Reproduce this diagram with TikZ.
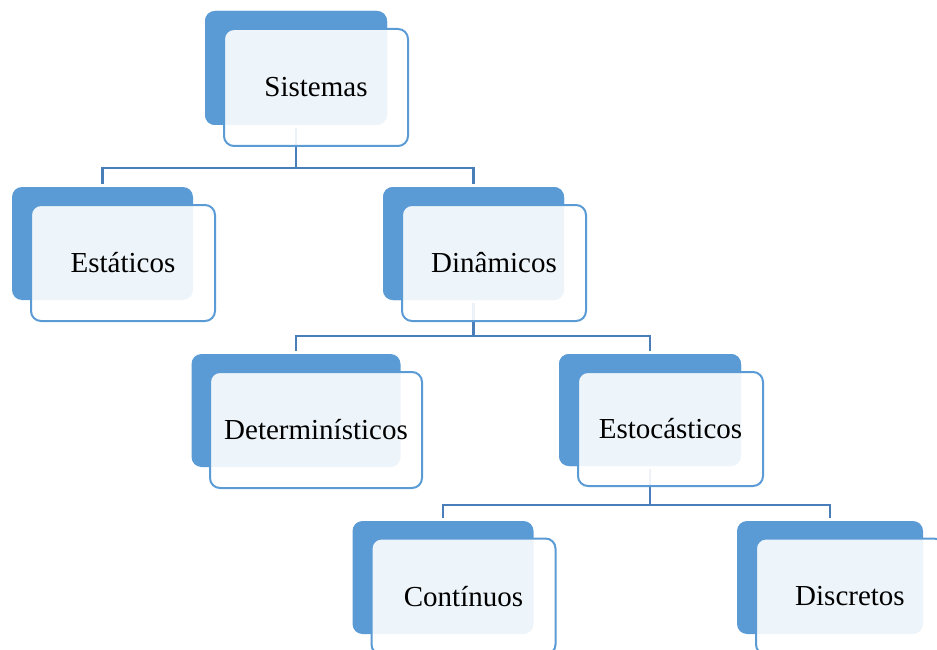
\documentclass[tikz,border=0pt]{standalone}
\usepackage{fontspec}
\setmainfont{Liberation Serif}
\definecolor{boxblue}{HTML}{5B9BD5}
\definecolor{linkblue}{HTML}{4A7EBB}
\begin{document}
\begin{tikzpicture}[x=1pt,y=-1pt,
  backbox/.style={rectangle, rounded corners=10pt, fill=boxblue, inner sep=0pt},
  frontbox/.style={rectangle, rounded corners=10pt, draw=boxblue, line width=2pt,
    fill=white, fill opacity=0.9, text opacity=1, inner sep=0pt,
    font=\fontsize{29}{34}\selectfont},
  conn/.style={draw=linkblue, line width=2.4pt, line join=miter}]
\useasboundingbox (0,0) rectangle (937,650);
\clip (0,0) rectangle (937,650);

% back boxes
\node[backbox, minimum width=182pt, minimum height=114pt] (sysB) at (296,68) {};
\node[backbox, minimum width=181pt, minimum height=113pt] (estB) at (102.5,243.5) {};
\node[backbox, minimum width=181pt, minimum height=113pt] (dinB) at (473.5,243.5) {};
\node[backbox, minimum width=209pt, minimum height=113pt] (detB) at (296,410.5) {};
\node[backbox, minimum width=182pt, minimum height=112pt] (stoB) at (650,410) {};
\node[backbox, minimum width=181pt, minimum height=113pt] (conB) at (443,577.5) {};
\node[backbox, minimum width=186pt, minimum height=113pt] (disB) at (830,577.5) {};

% junctions
\path (sysB.south) ++(0,43) coordinate (j1);
\path (dinB.south) ++(0,36) coordinate (j2);
\path (stoB.south) ++(0,39) coordinate (j3);

% connectors
\draw[conn, shorten <=3pt] (sysB.south) -- (j1);
\draw[conn, shorten >=3pt] (j1) -| (estB.north);
\draw[conn, shorten >=3pt] (j1) -| (dinB.north);
\draw[conn, shorten <=3pt] (dinB.south) -- (j2);
\draw[conn, shorten >=3pt] (j2) -| (detB.north);
\draw[conn, shorten >=3pt] (j2) -| (stoB.north);
\draw[conn, shorten <=3pt] (stoB.south) -- (j3);
\draw[conn, shorten >=3pt] (j3) -| (conB.north);
\draw[conn, shorten >=3pt] (j3) -| (disB.north);

% redraw back boxes over connector ends
\node[backbox, minimum width=182pt, minimum height=114pt] at (sysB) {};
\node[backbox, minimum width=181pt, minimum height=113pt] at (dinB) {};
\node[backbox, minimum width=182pt, minimum height=112pt] at (stoB) {};

% front boxes
\node[frontbox, minimum width=184pt, minimum height=117pt] (sys) at (316,87.5) {Sistemas};
\node[frontbox, minimum width=184pt, minimum height=116pt] (est) at (123,263) {Estáticos};
\node[frontbox, minimum width=184pt, minimum height=116pt] (din) at (494,263) {Dinâmicos};
\node[frontbox, minimum width=212pt, minimum height=116pt] (det) at (316,430) {Determinísticos};
\node[frontbox, minimum width=185pt, minimum height=114pt] (sto) at (670.5,429) {Estocásticos};
\node[frontbox, minimum width=184pt, minimum height=116pt] (con) at (463.5,596.5) {Contínuos};
\node[frontbox, minimum width=188pt, minimum height=116pt] (dis) at (850,596.5) {Discretos};
\end{tikzpicture}
\end{document}
